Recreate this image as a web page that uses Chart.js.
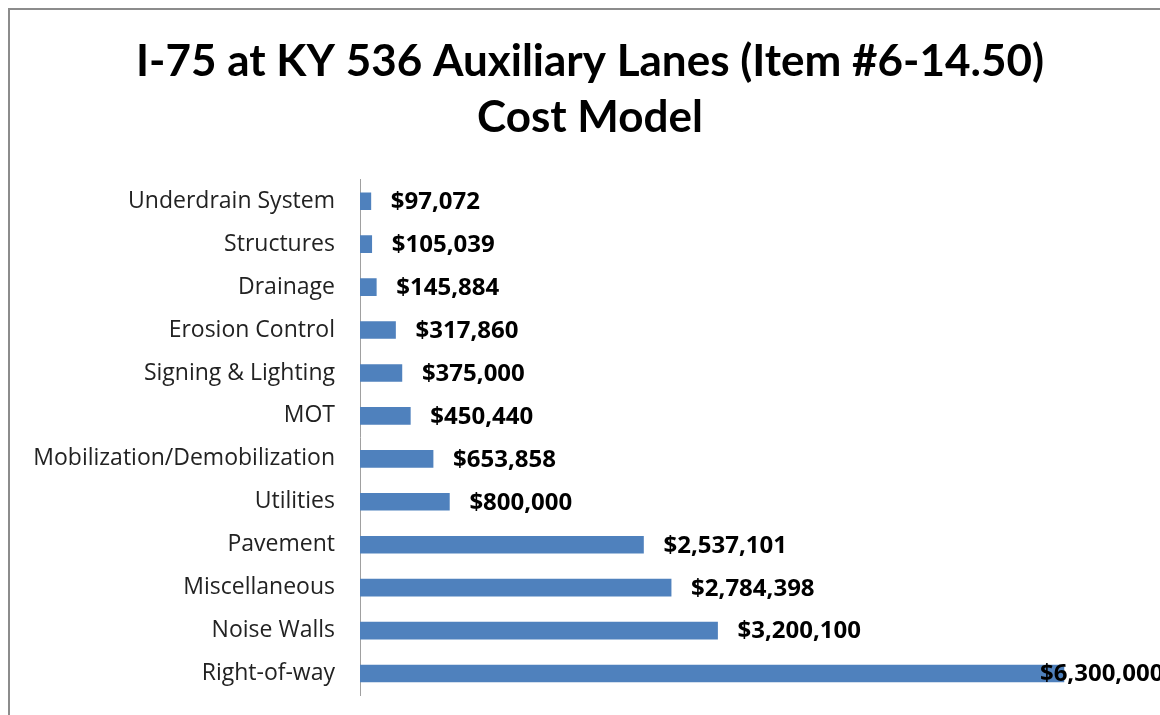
<!DOCTYPE html>
<html>
<head>
<meta charset="utf-8">
<script src="https://cdn.jsdelivr.net/npm/chart.js@4/dist/chart.umd.min.js"></script>
<style>
  html, body { margin: 0; padding: 0; background: #fff; overflow: hidden; }
  #wrap { width: 1160px; height: 715px; }
</style>
</head>
<body>
<div id="wrap"><canvas id="costChart" width="1160" height="715"></canvas></div>
<script>
// cost items, top to bottom
const categories = [
  'Underdrain System',
  'Structures',
  'Drainage',
  'Erosion Control',
  'Signing & Lighting',
  'MOT',
  'Mobilization/Demobilization',
  'Utilities',
  'Pavement',
  'Miscellaneous',
  'Noise Walls',
  'Right-of-way'
]

const costs = [97072, 105039, 145884, 317860, 375000, 450440, 653858, 800000, 2537101, 2784398, 3200100, 6300000]

const titleLines = ['I-75 at KY 536 Auxiliary Lanes (Item #6-14.50)', 'Cost Model']

const TITLE_FONT = 'Lato'
const LABEL_FONT = 'Open Sans'

const money = v => '$' + v.toLocaleString('en-US')

// frame around the chart (left and top edges show)
const framePlugin = {
  id: 'frame',
  beforeDraw(chart) {
    const c = chart.ctx
    c.save()
    c.strokeStyle = '#8c8c8c'
    c.lineWidth = 2
    c.beginPath()
    c.moveTo(9, 715)
    c.lineTo(9, 9)
    c.lineTo(1160, 9)
    c.stroke()
    c.restore()
  }
}

// value labels at the end of each bar
const valueLabels = {
  id: 'valueLabels',
  afterDatasetsDraw(chart) {
    const c = chart.ctx
    const meta = chart.getDatasetMeta(0)
    c.save()
    c.font = `bold 24px ${LABEL_FONT}`
    c.fillStyle = '#000'
    c.textBaseline = 'middle'
    c.textAlign = 'left'
    meta.data.forEach((bar, i) => {
      const txt = money(costs[i])
      const w = c.measureText(txt).width
      let x = bar.x + 20
      // no room past the bar end: pull the label back over the bar
      if (x + w > chart.chartArea.right) x = bar.x - 24
      c.fillText(txt, x, bar.y + 1)
    })
    c.restore()
  }
}

const ctx = document.getElementById('costChart').getContext('2d')

new Chart(ctx, {
  type: 'bar',
  data: {
    labels: categories,
    datasets: [{
      data: costs,
      backgroundColor: '#4f81bd',
      borderWidth: 0,
      barThickness: 17
    }]
  },
  options: {
    indexAxis: 'y',
    responsive: false,
    animation: false,
    layout: {
      padding: { top: 0, right: 0, bottom: 20, left: 20 }
    },
    plugins: {
      legend: { display: false },
      tooltip: { enabled: false },
      title: {
        display: true,
        text: titleLines,
        color: '#000',
        font: { family: TITLE_FONT, size: 44, weight: 'bold', lineHeight: 1.27 },
        padding: { top: 34, bottom: 34 }
      }
    },
    scales: {
      x: {
        display: false,
        min: 0,
        max: 7160000
      },
      y: {
        grid: { display: false, drawTicks: false },
        border: { display: true, color: '#a0a0a0', width: 1 },
        ticks: {
          color: '#222',
          padding: 25,
          font: { family: LABEL_FONT, size: 23 }
        },
        afterFit(scale) {
          scale.width = 340
          scale.paddingTop = 0
          scale.paddingBottom = 0
        }
      }
    }
  },
  plugins: [framePlugin, valueLabels]
})
</script>
</body>
</html>
